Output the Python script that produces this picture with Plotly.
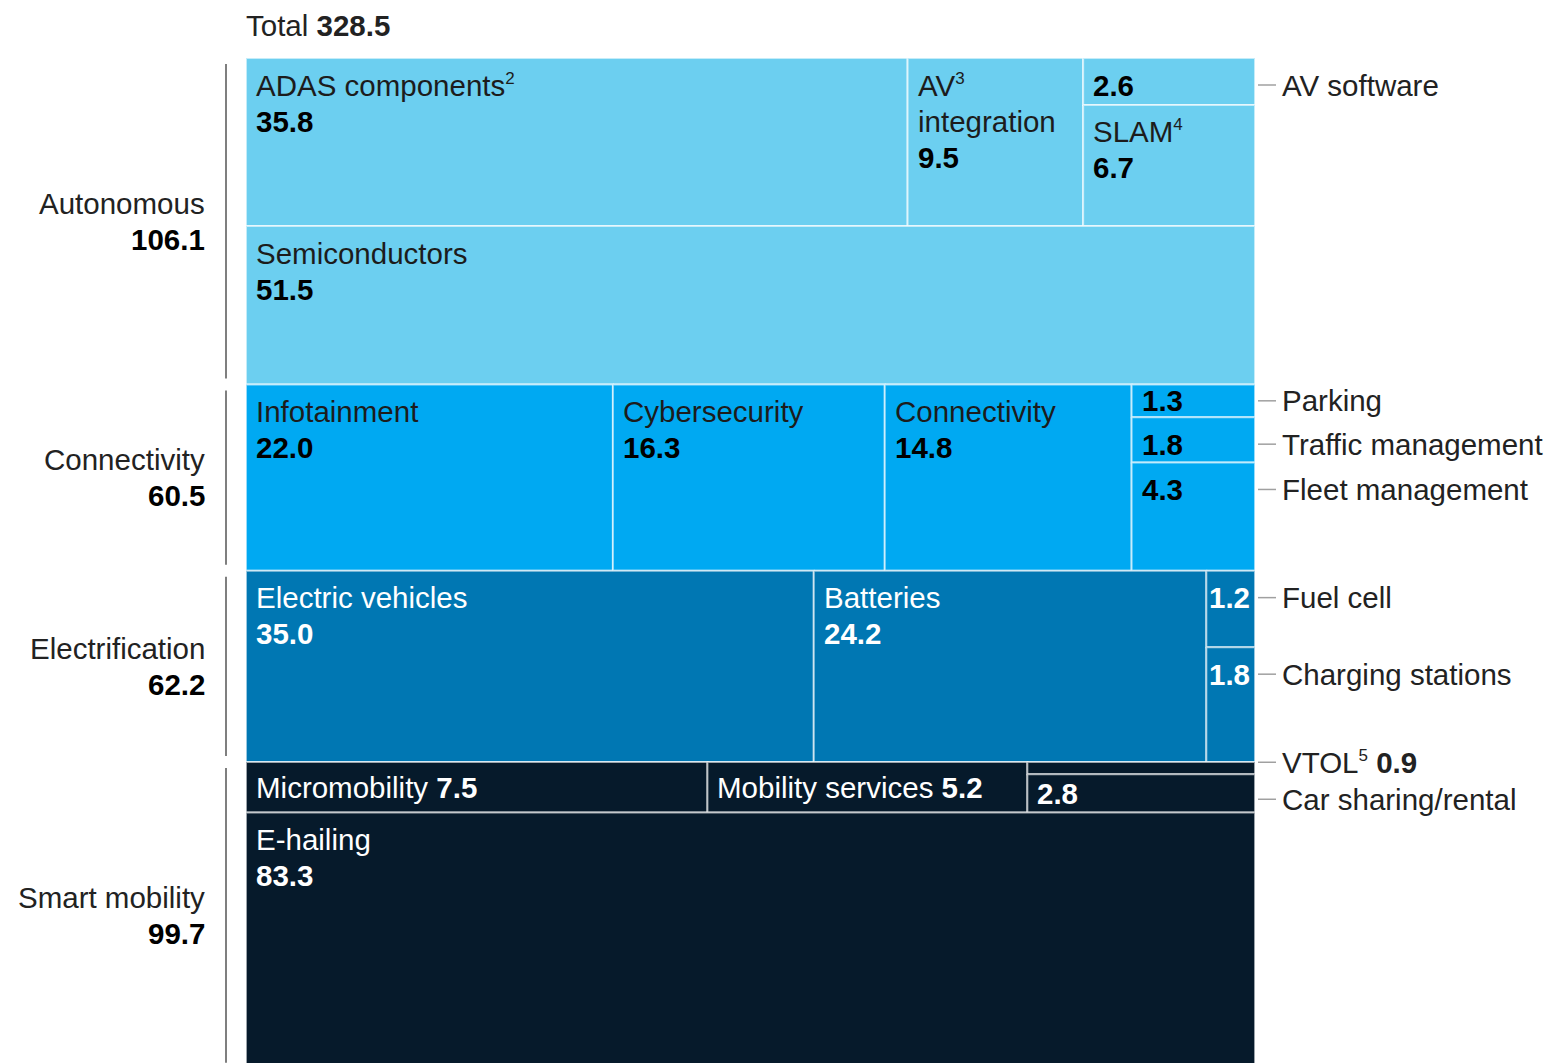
import plotly.graph_objects as go

# ---------------- data ----------------
total_label = "Total"
total_value = 328.5

group_names = ["Autonomous", "Connectivity", "Electrification", "Smart mobility"]
group_values = [106.1, 60.5, 62.2, 99.7]

seg_names = [
    "ADAS components", "AV\nintegration", "AV software", "SLAM",
    "Semiconductors",
    "Infotainment", "Cybersecurity", "Connectivity", "Parking", "Traffic management", "Fleet management",
    "Electric vehicles", "Batteries", "Fuel cell", "Charging stations",
    "Micromobility", "Mobility services", "VTOL", "Car sharing/rental",
    "E-hailing",
]
seg_notes = ["2", "3", "", "4", "", "", "", "", "", "", "", "", "", "", "", "", "", "5", "", ""]
seg_values = [35.8, 9.5, 2.6, 6.7, 51.5,
              22.0, 16.3, 14.8, 1.3, 1.8, 4.3,
              35.0, 24.2, 1.2, 1.8,
              7.5, 5.2, 0.9, 2.8, 83.3]
seg_group = [0, 0, 0, 0, 0, 1, 1, 1, 1, 1, 1, 2, 2, 2, 2, 3, 3, 3, 3, 3]
seg_row = [0, 0, 0, 0, 1, 0, 0, 0, 0, 0, 0, 0, 0, 0, 0, 0, 0, 0, 0, 1]
seg_col = [0, 1, 2, 2, 0, 0, 1, 2, 3, 3, 3, 0, 1, 2, 2, 0, 1, 2, 2, 0]

# ---------------- style ----------------
group_colors = ["#6ccff0", "#00a9f2", "#0077b3", "#061a2b"]
dark_text_groups = {0, 1}
# inside (name above value), inline (one line), right (value inside, name outside),
# outside (name + value outside)
label_mode = ["inside", "inside", "right", "inside", "inside",
              "inside", "inside", "inside", "right", "right", "right",
              "inside", "inside", "right", "right",
              "inline", "inline", "outside", "right", "inside"]

FONT = "Liberation Sans, Arial, sans-serif"
FS = 29.5
LINE = 36
OFF = 8                      # page body margin
W, H = 1552 - OFF, 1063 - OFF  # figure size
PX_LEFT, PX_RIGHT, PX_TOP, PX_PER_UNIT = 246, 1255, 58, 3.077
PX_W = PX_RIGHT - PX_LEFT


def px_x(px):
    return (px - PX_LEFT) / PX_W


def px_y(py):
    return (py - PX_TOP) / PX_PER_UNIT


def y_px(y):
    return PX_TOP + y * PX_PER_UNIT


def sup(note):
    return f"<sup><span style='font-size:17px'>{note}</span></sup>" if note else ""


# ---------------- layout computation ----------------
n = len(seg_values)
rects = [None] * n
group_spans = []
y0 = 0.0
for g in range(len(group_names)):
    idx = [i for i in range(n) if seg_group[i] == g]
    ry = y0
    for r in sorted(set(seg_row[i] for i in idx)):
        ridx = [i for i in idx if seg_row[i] == r]
        rsum = sum(seg_values[i] for i in ridx)
        cx = 0.0
        for c in sorted(set(seg_col[i] for i in ridx)):
            cidx = [i for i in ridx if seg_col[i] == c]
            csum = sum(seg_values[i] for i in cidx)
            w = csum / rsum
            cy = ry
            for i in cidx:
                h = rsum * seg_values[i] / csum
                rects[i] = (cx, cx + w, cy, cy + h)
                cy += h
            cx += w
        ry += rsum
    group_spans.append((y0, y0 + group_values[g]))
    y0 += group_values[g]

fig = go.Figure()
annotations = []
shapes = []

for i in range(n):
    x0, x1, ya, yb = rects[i]
    g = seg_group[i]
    fig.add_trace(go.Scatter(
        x=[x0, x1, x1, x0, x0], y=[ya, ya, yb, yb, ya],
        mode="lines", fill="toself", fillcolor=group_colors[g],
        line=dict(color="rgba(255,255,255,0.6)", width=2),
        name=seg_names[i].replace("\n", " "), hoverinfo="text",
        text=f"{seg_names[i]}: {seg_values[i]:.1f}".replace("\n", " "), showlegend=False,
    ))


def label_lines(i):
    lines = seg_names[i].split("\n")
    lines[0] = lines[0] + sup(seg_notes[i])
    return lines


right_labels = []
for i in range(n):
    x0, x1, ya, yb = rects[i]
    g = seg_group[i]
    dark = g in dark_text_groups
    ncol = "#1c1c1c" if dark else "#ffffff"
    vcol = "#000000" if dark else "#ffffff"
    top_px, bot_px = y_px(ya), y_px(yb)
    hpx = bot_px - top_px
    wpx = (x1 - x0) * PX_W
    pad = 8 if wpx > 80 else 1
    val = f"{seg_values[i]:.1f}"
    mode = label_mode[i]
    lines = label_lines(i)
    if mode == "inside":
        for k, ln in enumerate(lines):
            annotations.append(dict(x=x0, y=px_y(top_px + 27 + LINE * k), text=ln,
                                    xanchor="left", yanchor="middle", xshift=pad, showarrow=False,
                                    font=dict(family=FONT, size=FS, color=ncol)))
        annotations.append(dict(x=x0, y=px_y(top_px + 27 + LINE * len(lines)), text=f"<b>{val}</b>",
                                xanchor="left", yanchor="middle", xshift=pad, showarrow=False,
                                font=dict(family=FONT, size=FS, color=vcol)))
    elif mode == "inline":
        annotations.append(dict(x=x0, y=(ya + yb) / 2,
                                text=f"{' '.join(lines)} <b>{val}</b>",
                                xanchor="left", yanchor="middle", xshift=pad, showarrow=False,
                                font=dict(family=FONT, size=FS, color=ncol)))
    elif mode == "right":
        vy = top_px + 27 if hpx >= 40 else (top_px + bot_px) / 2
        annotations.append(dict(x=x0, y=px_y(vy), text=f"<b>{val}</b>",
                                xanchor="left", yanchor="middle", xshift=pad,
                                showarrow=False, font=dict(family=FONT, size=FS, color=vcol)))
        right_labels.append([vy, " ".join(lines)])
    else:  # outside
        right_labels.append([(top_px + bot_px) / 2, f"{' '.join(lines)} <b>{val}</b>"])

# spread right-hand labels that would collide
right_labels.sort(key=lambda t: t[0])
MIN_GAP = 37
for _ in range(10):
    for k in range(len(right_labels) - 1):
        a, b = right_labels[k], right_labels[k + 1]
        if b[0] - a[0] < MIN_GAP:
            mid = (a[0] + b[0]) / 2
            a[0], b[0] = mid - MIN_GAP / 2, mid + MIN_GAP / 2

for ypx, txt in right_labels:
    shapes.append(dict(type="line", xref="x", yref="y", x0=px_x(1258), x1=px_x(1276),
                       y0=px_y(ypx), y1=px_y(ypx), line=dict(color="#a0a0a0", width=1.5)))
    annotations.append(dict(x=px_x(1280), y=px_y(ypx), text=txt, xanchor="left", yanchor="middle",
                            showarrow=False, font=dict(family=FONT, size=FS, color="#222222")))

# group labels + brackets
for g, (ga, gb) in enumerate(group_spans):
    mid = (y_px(ga) + y_px(gb)) / 2
    annotations.append(dict(x=px_x(207), y=px_y(mid - 18), text=group_names[g], xanchor="right",
                            yanchor="middle", showarrow=False,
                            font=dict(family=FONT, size=FS, color="#222222")))
    annotations.append(dict(x=px_x(207), y=px_y(mid + 18), text=f"<b>{group_values[g]:.1f}</b>",
                            xanchor="right", yanchor="middle", showarrow=False,
                            font=dict(family=FONT, size=FS, color="#000000")))
    shapes.append(dict(type="line", xref="x", yref="y", x0=px_x(226), x1=px_x(226),
                       y0=px_y(y_px(ga) + 6), y1=px_y(y_px(gb) - 6),
                       line=dict(color="#555555", width=1.5)))

annotations.append(dict(x=0, y=px_y(25), text=f"{total_label} <b>{total_value:.1f}</b>",
                        xanchor="left", yanchor="middle", xshift=-2, showarrow=False,
                        font=dict(family=FONT, size=FS, color="#222222")))

fig.update_layout(
    width=W, height=H, margin=dict(l=0, r=0, t=0, b=0),
    paper_bgcolor="white", plot_bgcolor="white",
    xaxis=dict(range=[px_x(OFF), px_x(OFF + W)], visible=False, fixedrange=True),
    yaxis=dict(range=[px_y(OFF + H), px_y(OFF)], visible=False, fixedrange=True),
    annotations=annotations, shapes=shapes, showlegend=False,
)
fig.write_html("out.html")
